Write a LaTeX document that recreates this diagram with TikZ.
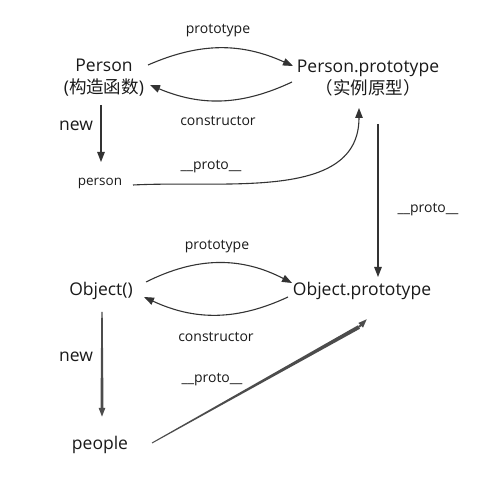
\documentclass[tikz,border=0pt]{standalone}
\usepackage{fontspec}
\setmainfont{Open Sans}
\newfontfamily\cjk{Noto Sans CJK SC}
\usetikzlibrary{arrows.meta,calc}

\tikzset{
  obj/.style={font=\fontsize{17.5}{22}\selectfont, text=black!90, inner sep=1pt, align=center},
  lbl/.style={font=\fontsize{14}{17}\selectfont, text=black!90, inner sep=1pt},
  arr/.style={draw=black!80, line width=1.1pt, -{Triangle[length=10pt,width=7.5pt]}},
  fathead/.style={draw=black!70, line width=2pt, -{Triangle[length=9pt,width=6pt]}}
}

\begin{document}
\begin{tikzpicture}[x=1pt, y=-1pt]
  \useasboundingbox (0,0) rectangle (499,486);

  % Các đối tượng
  \node[obj] (Person) at (104,78) {Person\\({\cjk 构造函数})};
  \node[obj] (PersonProto) at (368,78) {Person.prototype\\{\cjk （实例原型）}};
  \node[lbl, font=\fontsize{13.5}{16}\selectfont] (person) at (100,183) {person};
  \node[obj] (Object) at (101,291) {Object()};
  \node[obj] (ObjectProto) at (362,291) {Object.prototype};
  \node[obj] (people) at (100,445) {people};

  % Nhãn
  \node[lbl] (lprotoA) at (218,31) {prototype};
  \node[lbl] (lconsA) at (218,121) {constructor};
  \node[obj] (lnewA) at (76,126) {new};
  \node[lbl] (lunderA) at (211,167) {\_\_proto\_\_};
  \node[lbl] (lunderB) at (428,210) {\_\_proto\_\_};
  \node[lbl] (lprotoB) at (217,247) {prototype};
  \node[lbl] (lconsB) at (216,337) {constructor};
  \node[obj] (lnewB) at (76,357) {new};
  \node[lbl] (lunderC) at (212,380) {\_\_proto\_\_};

  % Mũi tên phía trên
  \draw[arr] ([shift={(44,-13)}]Person.center) to[bend left=24] ([shift={(-75,-12)}]PersonProto.center);
  \draw[arr] ([shift={(-76,4)}]PersonProto.center) to[bend left=24] ([shift={(46,7)}]Person.center);
  \draw[arr] ([shift={(-3,27)}]Person.center) -- ([shift={(1,-21)}]person.center);
  \draw[arr] ([shift={(33,2)}]person.center) to[out=3,in=-90] ([shift={(-9,30)}]PersonProto.center);
  \draw[arr] ([shift={(10,46)}]PersonProto.center) -- ([shift={(16,-14)}]ObjectProto.center);

  % Mũi tên phía dưới
  \draw[arr] ([shift={(45,-9)}]Object.center) to[bend left=27] ([shift={(-70,-8)}]ObjectProto.center);
  \draw[arr] ([shift={(-74,6)}]ObjectProto.center) to[bend left=25] ([shift={(43,6)}]Object.center);

  % Mũi tên đậm (vuốt nhọn)
  \coordinate (newS) at ([shift={(1,21)}]Object.center);
  \coordinate (newE) at ([shift={(2,-37)}]people.center);
  \fill[black!70] ($(newS)!0.7pt!90:(newE)$) -- ($(newE)!1.5pt!-90:(newS)$)
    -- ($(newE)!1.5pt!90:(newS)$) -- ($(newS)!0.7pt!-90:(newE)$) -- cycle;
  \draw[fathead] (newE) -- ([shift={(2,-28)}]people.center);

  \coordinate (proS) at ([shift={(52,-2)}]people.center);
  \coordinate (proE) at ([shift={(-3,36)}]ObjectProto.center);
  \fill[black!70] ($(proS)!0.5pt!90:(proE)$) -- ($(proE)!2pt!-90:(proS)$)
    -- ($(proE)!2pt!90:(proS)$) -- ($(proS)!0.5pt!-90:(proE)$) -- cycle;
  \draw[fathead] (proE) -- ([shift={(5,28)}]ObjectProto.center);
\end{tikzpicture}
\end{document}
